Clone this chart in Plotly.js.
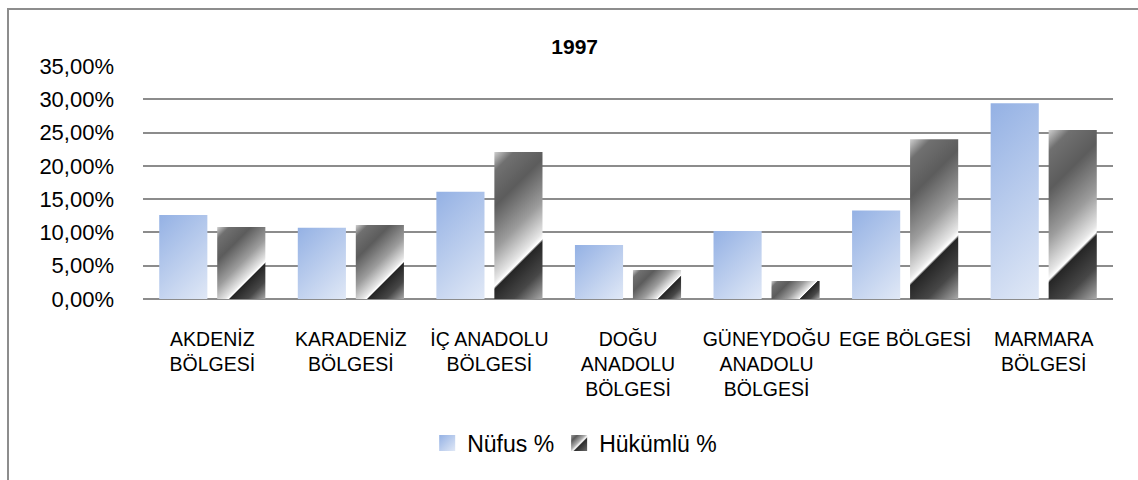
<!DOCTYPE html>
<html>
<head>
<meta charset="utf-8">
<script src="https://cdn.plot.ly/plotly-3.0.1.min.js"></script>
<style>
  html, body { margin: 0; padding: 0; background: #fff; overflow: hidden; }
  #wrap { position: relative; width: 1138px; height: 480px; }
  #chart { position: absolute; left: 0; top: 0; width: 1138px; height: 480px; }
  #frame { position: absolute; left: 7px; top: 8px; width: 1200px; height: 520px;
           border-left: 2px solid #8d8d8d; border-top: 2px solid #8d8d8d; pointer-events: none; }
</style>
</head>
<body>
<div id="wrap">
  <div id="chart"></div>
  <div id="frame"></div>
</div>
<script>
// ---- data ----
const categories = ['AKDENİZ BÖLGESİ', 'KARADENİZ BÖLGESİ', 'İÇ ANADOLU BÖLGESİ', 'DOĞU ANADOLU BÖLGESİ',
                    'GÜNEYDOĞU ANADOLU BÖLGESİ', 'EGE BÖLGESİ', 'MARMARA BÖLGESİ'];
const categoryLabels = ['AKDENİZ<br>BÖLGESİ', 'KARADENİZ<br>BÖLGESİ', 'İÇ ANADOLU<br>BÖLGESİ',
                        'DOĞU<br>ANADOLU<br>BÖLGESİ', 'GÜNEYDOĞU<br>ANADOLU<br>BÖLGESİ', 'EGE BÖLGESİ',
                        'MARMARA<br>BÖLGESİ'];
const nufus = [12.6, 10.7, 16.1, 8.1, 10.2, 13.3, 29.4];
const hukumlu = [10.8, 11.1, 22.1, 4.35, 2.7, 24.0, 25.4];
const seriesNames = ['Nüfus %', 'Hükümlü %'];
const yTickVals = [0, 5, 10, 15, 20, 25, 30, 35];
const yTickText = ['0,00%', '5,00%', '10,00%', '15,00%', '20,00%', '25,00%', '30,00%', '35,00%'];
const chartTitle = '1997';

const FONT = 'Liberation Sans, Arial, sans-serif';

const traces = [
  { type: 'bar', name: seriesNames[0], x: categories, y: nufus,
    marker: { color: '#b7c9ea', line: { width: 0 } }, hoverinfo: 'skip' },
  { type: 'bar', name: seriesNames[1], x: categories, y: hukumlu,
    marker: { color: '#777777', line: { width: 0 } }, hoverinfo: 'skip' }
];

const layout = {
  width: 1138, height: 480,
  paper_bgcolor: 'rgba(0,0,0,0)', plot_bgcolor: 'rgba(0,0,0,0)',
  margin: { l: 143, r: 25, t: 66, b: 181 },
  barmode: 'group', bargap: 0.163, bargroupgap: 0.17,
  font: { family: FONT, color: '#000', size: 19 },
  title: { text: '<b>' + chartTitle + '</b>', font: { family: FONT, size: 21, color: '#000' },
           xref: 'container', yref: 'container', x: 0.505, xanchor: 'center', y: 0.902, yanchor: 'middle' },
  xaxis: { type: 'category', tickvals: categories, ticktext: categoryLabels,
           showgrid: false, showline: false, zeroline: false, ticks: '',
           tickfont: { family: FONT, size: 19.5, color: '#000' }, ticklabelstandoff: 26, tickangle: 0 },
  yaxis: { range: [0, 35], tickvals: yTickVals, ticktext: yTickText,
           showgrid: true, gridcolor: '#8c8c8c', gridwidth: 2,
           zeroline: true, zerolinecolor: '#8c8c8c', zerolinewidth: 2,
           showline: false, ticks: '', tickfont: { family: FONT, size: 22, color: '#000' },
           ticklabelstandoff: 28 },
  showlegend: true,
  legend: { orientation: 'h', xref: 'container', yref: 'container', x: 0.505, xanchor: 'center',
            y: 0.077, yanchor: 'middle', font: { family: FONT, size: 23, color: '#000' },
            bgcolor: 'rgba(0,0,0,0)', itemwidth: 30, tracegroupgap: 0 }
};

const NS = 'http://www.w3.org/2000/svg';
const blueStops = [[0, '#94b1e4'], [1, '#e0e8f6']];
const metalStops = [[0, '#cfcfcf'], [0.1, '#707070'], [0.28, '#5c5c5c'], [0.5, '#9c9c9c'],
                    [0.66, '#e6e6e6'], [0.69, '#ffffff'], [0.705, '#262626'], [0.85, '#474747'], [1, '#aaaaaa']];
const legendMetalStops = [[0, '#9a9a9a'], [0.2, '#5a5a5a'], [0.45, '#b0b0b0'], [0.55, '#ffffff'],
                          [0.6, '#2a2a2a'], [1, '#6a6a6a']];

function makeGrad(defs, id, stops, attrs) {
  const old = document.getElementById(id);
  if (old) old.remove();
  const g = document.createElementNS(NS, 'linearGradient');
  g.setAttribute('id', id);
  for (const k in attrs) g.setAttribute(k, attrs[k]);
  stops.forEach(s => {
    const st = document.createElementNS(NS, 'stop');
    st.setAttribute('offset', s[0]);
    st.setAttribute('stop-color', s[1]);
    g.appendChild(st);
  });
  defs.appendChild(g);
}

function applyGradients(gd) {
  const svg = gd.querySelector('.main-svg');
  let defs = svg.querySelector('defs');
  if (!defs) { defs = document.createElementNS(NS, 'defs'); svg.insertBefore(defs, svg.firstChild); }
  const trs = gd.querySelectorAll('.barlayer .trace');
  trs.forEach((tr, ti) => {
    const stops = ti === 0 ? blueStops : metalStops;
    tr.querySelectorAll('.point path').forEach((p, pi) => {
      const bb = p.getBBox();
      const t = (bb.width + bb.height) / 2;
      const id = 'bg_' + ti + '_' + pi;
      makeGrad(defs, id, stops, { gradientUnits: 'userSpaceOnUse', x1: bb.x, y1: bb.y, x2: bb.x + t, y2: bb.y + t });
      p.style.fill = 'url(#' + id + ')';
    });
  });
  gd.querySelectorAll('.legend .traces').forEach((lt, ti) => {
    const stops = ti === 0 ? blueStops : legendMetalStops;
    const id = 'lg_' + ti;
    makeGrad(defs, id, stops, { x1: 0, y1: 0, x2: 1, y2: 1 });
    lt.querySelectorAll('.legendpoints path').forEach(p => {
      p.setAttribute('d', 'M8,8H-8V-8H8Z');
      p.style.fill = 'url(#' + id + ')';
    });
  });
}

const gd = document.getElementById('chart');
Plotly.newPlot(gd, traces, layout, { staticPlot: true, displayModeBar: false }).then(() => {
  applyGradients(gd);
  gd.on && gd.on('plotly_afterplot', () => applyGradients(gd));
});
</script>
</body>
</html>
